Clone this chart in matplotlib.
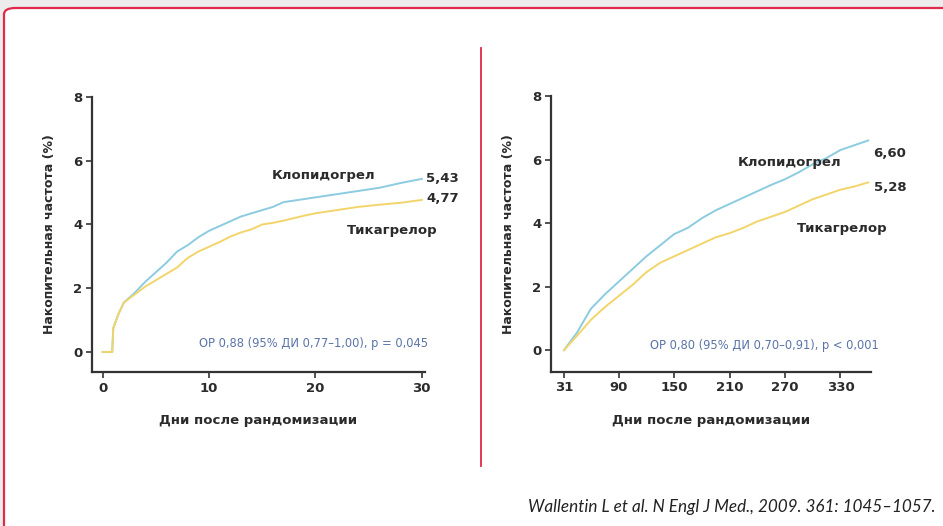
import matplotlib.pyplot as plt
from matplotlib.patches import FancyBboxPatch
from matplotlib.lines import Line2D

plt.rcParams['font.family'] = ['DejaVu Sans']

# первые 30 дней
days_a = [0, 0.9, 1.0, 1.5, 2, 3, 4, 5, 6, 7, 8, 9, 10, 11, 12, 13, 14, 15,
          16, 17, 18, 19, 20, 22, 24, 26, 28, 30]
clop_a = [0, 0, 0.75, 1.2, 1.55, 1.85, 2.2, 2.5, 2.8, 3.15, 3.35, 3.6, 3.8,
          3.95, 4.1, 4.25, 4.35, 4.45, 4.55, 4.7, 4.75, 4.8, 4.85, 4.95, 5.05,
          5.15, 5.3, 5.43]
tica_a = [0, 0, 0.75, 1.2, 1.55, 1.8, 2.05, 2.25, 2.45, 2.65, 2.95, 3.15, 3.3,
          3.45, 3.62, 3.75, 3.85, 4.0, 4.05, 4.12, 4.2, 4.28, 4.35, 4.45, 4.55,
          4.62, 4.68, 4.77]

# с 31 дня до конца наблюдения
days_b = [31, 45, 60, 75, 90, 105, 120, 135, 150, 165, 180, 195, 210, 225,
          240, 255, 270, 285, 300, 315, 330, 345, 360]
clop_b = [0, 0.55, 1.3, 1.75, 2.15, 2.55, 2.95, 3.3, 3.65, 3.85, 4.15, 4.4,
          4.6, 4.8, 5.0, 5.2, 5.38, 5.6, 5.85, 6.05, 6.3, 6.45, 6.60]
tica_b = [0, 0.45, 0.95, 1.35, 1.7, 2.05, 2.45, 2.75, 2.95, 3.15, 3.35, 3.55,
          3.68, 3.85, 4.05, 4.2, 4.35, 4.55, 4.75, 4.9, 5.05, 5.15, 5.28]

xticks_a = [0, 10, 20, 30]
xticks_b = [31, 90, 150, 210, 270, 330]
yticks = [0, 2, 4, 6, 8]

c_clop = '#8ccbe0'
c_tica = '#f2d56a'
c_text = '#2b2b2b'
c_note = '#5b74a8'
c_red = '#e02a48'

fig = plt.figure(figsize=(9.43, 5.26), dpi=100)
fig.patch.set_facecolor('#ececec')

# белая панель с красной рамкой
frame = FancyBboxPatch((4/943, -0.05), 1.05, (526-8)/526 + 0.05,
                       boxstyle='round,pad=0,rounding_size=0.012',
                       transform=fig.transFigure, facecolor='white',
                       edgecolor=c_red, linewidth=1.6, zorder=-2)
fig.patches.append(frame)
fig.lines.append(Line2D([481/943, 481/943], [1-48/526, 1-466/526],
                        transform=fig.transFigure, color=c_red, linewidth=1.3,
                        zorder=-1))


def panel(rect, days, clop, tica, xlim, ylim, xticks):
    ax = fig.add_axes(rect)
    ax.set_facecolor('none')
    ax.plot(days, clop, color=c_clop, linewidth=1.4)
    ax.plot(days, tica, color=c_tica, linewidth=1.4)
    ax.set_xlim(*xlim)
    ax.set_ylim(*ylim)
    ax.set_xticks(xticks)
    ax.set_yticks(yticks)
    for s in ['top', 'right']:
        ax.spines[s].set_visible(False)
    for s in ['left', 'bottom']:
        ax.spines[s].set_linewidth(1.6)
        ax.spines[s].set_color('#333333')
    ax.tick_params(axis='both', length=4, width=1.2, color='#333333',
                   labelsize=9.5, labelcolor=c_text, pad=3)
    for lab in ax.get_xticklabels() + ax.get_yticklabels():
        lab.set_fontweight('bold')
    ax.set_xlabel('Дни после рандомизации', fontsize=9.5, fontweight='bold',
                  color=c_text, labelpad=14)
    ax.set_ylabel('Накопительная частота (%)', fontsize=9, fontweight='bold',
                  color=c_text, labelpad=12)
    return ax


def label(ax, x, y, s, ha='left', **kw):
    ax.text(x, y, s, fontsize=9.5, fontweight='bold', color=c_text,
            ha=ha, va='center', clip_on=False, **kw)


ax1 = panel([92/943, 154/526, 333/943, 275/526], days_a, clop_a, tica_a,
            (-1.0, 30.3), (-0.63, 8.0), xticks_a)
label(ax1, 20.8, 5.55, 'Клопидогрел', ha='center')
label(ax1, 30.4, 5.45, '5,43')
label(ax1, 30.4, 4.8, '4,77')
label(ax1, 31.5, 3.82, 'Тикагрелор', ha='right')
ax1.text(30.6, 0.25, 'ОР 0,88 (95% ДИ 0,77–1,00), р = 0,045', fontsize=8.3,
         color=c_note, ha='right', va='center', clip_on=False)

ax2 = panel([551/943, 154.3/526, 320/943, 275.7/526], days_b, clop_b, tica_b,
            (16.9, 363), (-0.68, 8.0), xticks_b)
label(ax2, 274.8, 5.92, 'Клопидогрел', ha='center')
label(ax2, 365.8, 6.2, '6,60')
label(ax2, 365.8, 5.13, '5,28')
label(ax2, 381, 3.84, 'Тикагрелор', ha='right')
ax2.text(371, 0.16, 'ОР 0,80 (95% ДИ 0,70–0,91), р < 0,001', fontsize=8.3,
         color=c_note, ha='right', va='center', clip_on=False)

fig.text(936/943, 1 - 507/526,
         'Wallentin L et al. N Engl J Med., 2009. 361: 1045–1057.',
         fontsize=12.3, style='italic', color='#222222', ha='right',
         va='center', family=['Lato', 'DejaVu Sans'])

plt.savefig('out.png', dpi=100, facecolor=fig.get_facecolor())
